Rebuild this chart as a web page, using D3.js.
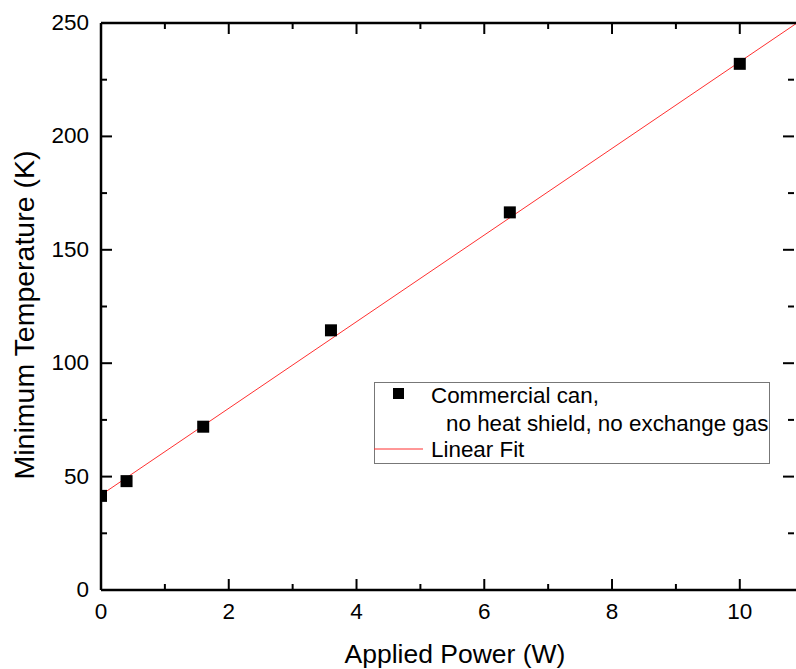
<!DOCTYPE html>
<html>
<head>
<meta charset="utf-8">
<script src="https://cdn.jsdelivr.net/npm/d3@7"></script>
<style>
  body { margin: 0; background: #fff; }
  text { font-family: "Liberation Sans", Arial, sans-serif; fill: #000; }
</style>
</head>
<body>
<div class="chart"></div>
<script>
'use strict'
var power = [0, 0.4, 1.6, 3.6, 6.4, 10]
var minTemp = [41.5, 48, 72, 114.5, 166.5, 232]
var fitIntercept = 41.9
var fitSlope = 19.1
var xTicks = [0, 2, 4, 6, 8, 10]
var yTicks = [0, 50, 100, 150, 200, 250]

var width = 796
var height = 669
var margin = { left: 101, right: 0, top: 23, bottom: 79 }

var x = d3.scaleLinear().domain([0, 10.88]).range([margin.left, width - margin.right])
var y = d3.scaleLinear().domain([0, 250]).range([height - margin.bottom, margin.top])

var svg = d3.select('.chart').append('svg')
  .attr('width', width)
  .attr('height', height)

svg.append('clipPath').attr('id', 'plot')
  .append('rect')
  .attr('x', x(0)).attr('y', y(250))
  .attr('width', width - x(0)).attr('height', y(0) - y(250))

var xMinor = d3.range(1, 11, 2)
var yMinor = d3.range(25, 250, 50)

// ticks, all inward, on all four sides
var ticks = svg.append('g').attr('stroke', '#000').attr('stroke-width', 2)
xTicks.concat(xMinor).forEach(function (v) {
  var len = xTicks.indexOf(v) >= 0 ? 11 : 6
  ticks.append('line').attr('x1', x(v)).attr('x2', x(v)).attr('y1', y(0)).attr('y2', y(0) - len)
  ticks.append('line').attr('x1', x(v)).attr('x2', x(v)).attr('y1', y(250)).attr('y2', y(250) + len)
})
yTicks.concat(yMinor).forEach(function (v) {
  var len = yTicks.indexOf(v) >= 0 ? 11 : 6
  ticks.append('line').attr('x1', x(0)).attr('x2', x(0) + len).attr('y1', y(v)).attr('y2', y(v))
  ticks.append('line').attr('x1', width - 2).attr('x2', width - 2 - len).attr('y1', y(v)).attr('y2', y(v))
})

// tick labels
svg.append('g').selectAll('text')
  .data(xTicks)
  .enter().append('text')
  .attr('x', function (d) { return x(d) })
  .attr('y', y(0) + 29)
  .attr('text-anchor', 'middle')
  .attr('font-size', 22.5)
  .text(function (d) { return d })

svg.append('g').selectAll('text')
  .data(yTicks)
  .enter().append('text')
  .attr('x', x(0) - 12)
  .attr('y', function (d) { return y(d) + 7 })
  .attr('text-anchor', 'end')
  .attr('font-size', 22.5)
  .text(function (d) { return d })

// axis titles
svg.append('text')
  .attr('x', 455)
  .attr('y', 663)
  .attr('text-anchor', 'middle')
  .attr('font-size', 26.5)
  .text('Applied Power (W)')

svg.append('text')
  .attr('transform', 'translate(34,315) rotate(-90)')
  .attr('text-anchor', 'middle')
  .attr('font-size', 28.5)
  .text('Minimum Temperature (K)')

// fit line
var fitLine = d3.line()
  .x(function (d) { return x(d) })
  .y(function (d) { return y(fitIntercept + fitSlope * d) })
svg.append('path')
  .datum(x.domain())
  .attr('d', fitLine)
  .attr('stroke', '#ff3030')
  .attr('stroke-width', 1)
  .attr('fill', 'none')

// data points
var sz = 12
svg.append('g').attr('clip-path', 'url(#plot)')
  .selectAll('rect')
  .data(power)
  .enter().append('rect')
  .attr('x', function (d) { return x(d) - sz / 2 })
  .attr('y', function (d, i) { return y(minTemp[i]) - sz / 2 })
  .attr('width', sz)
  .attr('height', sz)
  .attr('fill', '#000')

// frame
var frame = svg.append('g').attr('stroke', '#000').attr('stroke-width', 2.5).attr('fill', 'none')
frame.append('line').attr('x1', x(0)).attr('x2', width).attr('y1', y(0)).attr('y2', y(0))
frame.append('line').attr('x1', x(0)).attr('x2', width).attr('y1', y(250)).attr('y2', y(250))
frame.append('line').attr('x1', x(0)).attr('x2', x(0)).attr('y1', y(0)).attr('y2', y(250))

// legend
var legend = svg.append('g')
legend.append('rect')
  .attr('x', 374.5).attr('y', 382.5)
  .attr('width', 395).attr('height', 81)
  .attr('fill', '#fff').attr('stroke', '#777').attr('stroke-width', 1)
legend.append('rect')
  .attr('x', 393).attr('y', 388).attr('width', 11).attr('height', 11).attr('fill', '#000')
legend.append('line')
  .attr('x1', 374).attr('x2', 423).attr('y1', 449).attr('y2', 449)
  .attr('stroke', '#ff3030').attr('stroke-width', 1)
legend.append('text').attr('x', 431).attr('y', 403).attr('font-size', 22.4).text('Commercial can,')
legend.append('text').attr('x', 446).attr('y', 431).attr('font-size', 22.4).text('no heat shield, no exchange gas')
legend.append('text').attr('x', 431).attr('y', 457).attr('font-size', 22.4).text('Linear Fit')
</script>
</body>
</html>
